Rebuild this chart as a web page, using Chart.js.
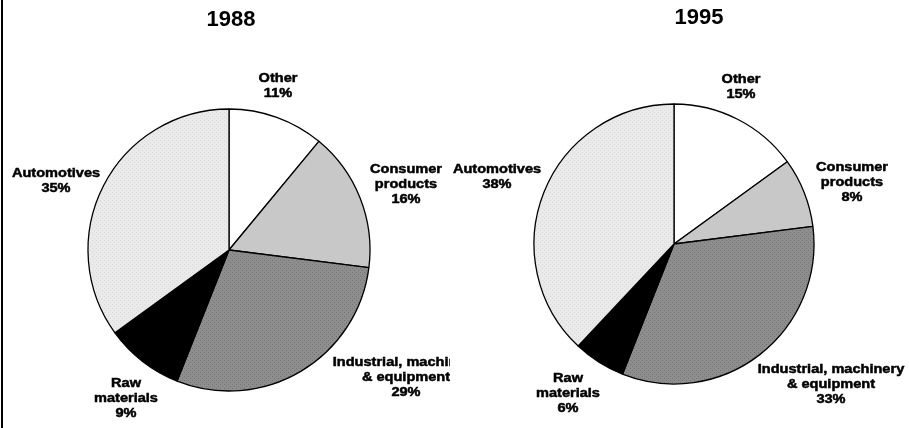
<!DOCTYPE html>
<html>
<head>
<meta charset="utf-8">
<script src="https://cdn.jsdelivr.net/npm/chart.js@4"></script>
<style>
  html, body { margin: 0; padding: 0; background: #fff; }
  body { width: 909px; height: 428px; position: relative; overflow: hidden; }
  .frame { position: absolute; left: 1px; top: 0; width: 2px; height: 428px; background: #000; }
  .pane { position: absolute; top: 0; height: 428px; }
  #paneA { left: 0; width: 450px; }
  #paneB { left: 450px; width: 459px; }
</style>
</head>
<body>
<div class="pane" id="paneA"><canvas id="pie1988"></canvas></div>
<div class="pane" id="paneB"><canvas id="pie1995"></canvas></div>
<div class="frame"></div>
<script>
// Export shares by sector, clockwise from 12 o'clock
const categories = ['Other', ['Consumer', 'products'], ['Industrial, machinery', '& equipment'], ['Raw', 'materials'], 'Automotives'];
const years = ['1988', '1995'];
const shares1988 = [11, 16, 29, 9, 35];
const shares1995 = [15, 8, 33, 6, 38];

// Fill textures
function texture(base, dot, size) {
  const c = document.createElement('canvas');
  c.width = size; c.height = size;
  const g = c.getContext('2d');
  g.fillStyle = base; g.fillRect(0, 0, size, size);
  g.fillStyle = dot;
  g.fillRect(0, 0, 1, 1);
  g.fillRect(size / 2, size / 2, 1, 1);
  return g.createPattern(c, 'repeat');
}
const fills = [
  '#ffffff',
  '#c8c8c8',
  texture('#8e8e8e', '#747474', 4),
  '#000000',
  texture('#eaeaea', '#d9d9d9', 4)
];

// Labels outside each slice plus the year heading
const sliceLabels = {
  id: 'sliceLabels',
  afterDatasetsDraw(chart, args, opts) {
    const ctx = chart.ctx;
    const meta = chart.getDatasetMeta(0);
    const values = chart.data.datasets[0].data;
    ctx.save();
    ctx.fillStyle = '#000';
    ctx.strokeStyle = '#000';
    ctx.lineWidth = 0.5;
    ctx.textAlign = 'center';
    ctx.textBaseline = 'middle';
    meta.data.forEach((arc, i) => {
      const name = chart.data.labels[i];
      const lines = (Array.isArray(name) ? name.slice() : [name]);
      lines.push(values[i] + '%');
      const [dx, dy] = opts.offsets[i];
      const cx = arc.x + dx;
      const top = arc.y + dy - (lines.length - 1) * opts.lineHeight / 2;
      ctx.font = 'bold 13px "Liberation Sans", Arial, sans-serif';
      lines.forEach((ln, k) => {
        ctx.save();
        ctx.translate(cx, top + k * opts.lineHeight);
        ctx.scale(opts.stretch, 1);
        ctx.fillText(ln, 0, 0);
        ctx.strokeText(ln, 0, 0);
        ctx.restore();
      });
    });
    const a0 = meta.data[0];
    ctx.font = 'bold 22px "Liberation Sans", Arial, sans-serif';
    ctx.fillText(opts.title, a0.x + opts.titleOffset[0], a0.y + opts.titleOffset[1]);
    ctx.restore();
  }
};

function makePie(id, values, title, padding, radius, offsets, titleOffset) {
  return new Chart(document.getElementById(id), {
    type: 'pie',
    data: {
      labels: categories,
      datasets: [{
        data: values,
        backgroundColor: fills,
        borderColor: '#000',
        borderWidth: 1.3,
        borderAlign: 'center'
      }]
    },
    options: {
      responsive: true,
      maintainAspectRatio: false,
      animation: false,
      radius: radius,
      layout: { padding: padding },
      plugins: {
        legend: { display: false },
        tooltip: { enabled: false },
        title: { display: false },
        sliceLabels: { title, offsets, titleOffset, lineHeight: 15, stretch: 1.12 }
      }
    },
    plugins: [sliceLabels]
  });
}

makePie('pie1988', shares1988, years[0],
  { left: 88, right: 80, top: 109, bottom: 37 }, 141,
  [[49, -164], [177, -66], [177, 127], [-103, 148], [-173, -69]],
  [2, -230]);

makePie('pie1995', shares1995, years[1],
  { left: 84, right: 95, top: 104, bottom: 44 }, 140,
  [[67, -157], [178, -62], [157, 140], [-106, 149], [-177, -67]],
  [25, -226]);
</script>
</body>
</html>
